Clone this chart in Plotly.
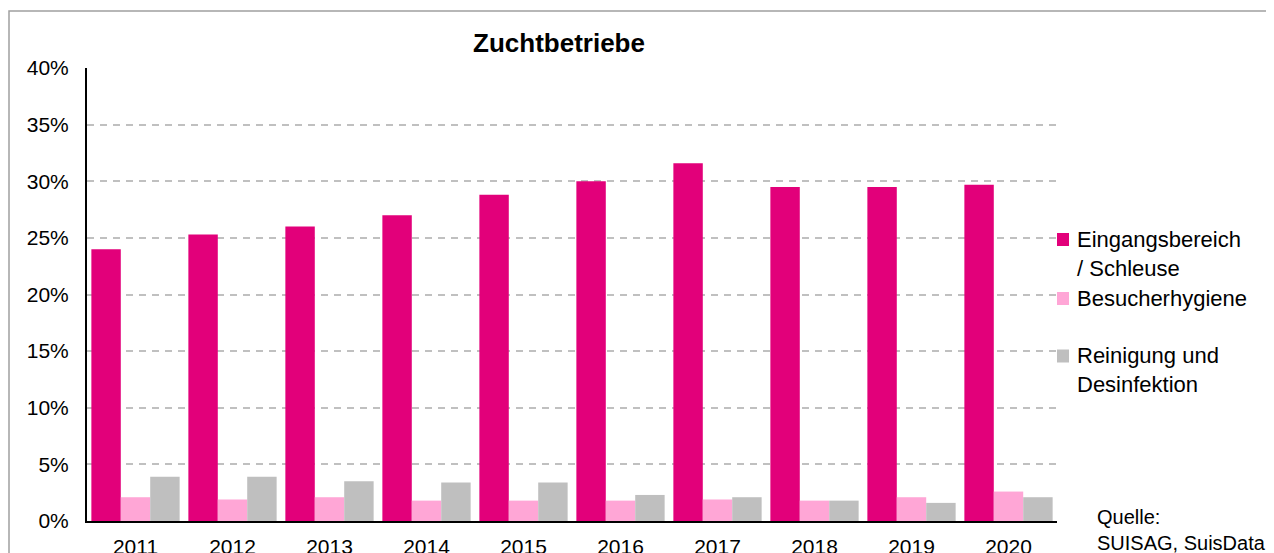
import plotly.graph_objects as go

years = ["2011", "2012", "2013", "2014", "2015", "2016", "2017", "2018", "2019", "2020"]
eingang = [0.240, 0.253, 0.260, 0.270, 0.288, 0.300, 0.316, 0.295, 0.295, 0.297]
besucher = [0.021, 0.019, 0.021, 0.018, 0.018, 0.018, 0.019, 0.018, 0.021, 0.026]
reinigung = [0.039, 0.039, 0.035, 0.034, 0.034, 0.023, 0.021, 0.018, 0.016, 0.021]

series_names = ["Eingangsbereich<br>/ Schleuse", "Besucherhygiene", "Reinigung und<br>Desinfektion"]
colors = ["#E2007A", "#FFA6D6", "#BFBFBF"]

# the page body has an 8px margin; work in screen pixels and convert
OFF = 8
W, H = 1274 - OFF, 553 - OFF
L, R, T, B = 87, 1057, 68, 521  # screen pixels of the plot area
pw, ph = R - L, B - T

def px(x):
    return (x - L) / pw

def py(y):
    return (B - y) / ph

FONT = "Liberation Sans, Arial, sans-serif"

fig = go.Figure()
for name, vals, col in zip(series_names, [eingang, besucher, reinigung], colors):
    fig.add_trace(go.Bar(x=years, y=vals, name=name, marker=dict(color=col, line=dict(width=0)),
                         showlegend=False))

fig.update_layout(
    width=W, height=H,
    margin=dict(l=L - OFF, r=W - (R - OFF), t=T - OFF, b=H - (B - OFF), pad=0, autoexpand=False),
    paper_bgcolor="white", plot_bgcolor="white",
    barmode="group", bargap=0.09, bargroupgap=0,
    font=dict(family=FONT, color="black"),
    title=dict(text="<b>Zuchtbetriebe</b>", font=dict(size=26, family=FONT, color="black"),
               x=px(559), xref="paper", xanchor="center", y=1 - (43 - OFF) / H, yref="container",
               yanchor="middle"),
)
fig.update_yaxes(range=[0, 0.4], tickvals=[i * 0.05 for i in range(9)], tickformat=".0%",
                 showgrid=True, gridcolor="#C0C0C0", gridwidth=2, griddash="7px,6px",
                 showline=True, linecolor="black", linewidth=2, ticks="", zeroline=False,
                 tickfont=dict(size=21, color="black"), ticklabelstandoff=12, automargin=False)
fig.update_xaxes(showline=True, linecolor="black", linewidth=2, ticks="", showgrid=False,
                 tickfont=dict(size=21, color="black"), ticklabelstandoff=6, automargin=False)

shapes = []
annotations = []
# outer border
shapes.append(dict(type="rect", xref="paper", yref="paper", x0=px(9), x1=px(1290),
                   y0=py(575), y1=py(11), line=dict(color="#A0A0A0", width=1.5)))
# legend
leg = [(series_names[0], colors[0], 239.5, 253.5),
       (series_names[1], colors[1], 298.5, 298.5),
       (series_names[2], colors[2], 356.0, 370.0)]
for name, col, my, ty in leg:
    shapes.append(dict(type="rect", xref="paper", yref="paper", x0=px(1057), x1=px(1069),
                       y0=py(my + 6.5), y1=py(my - 6.5), line=dict(width=0), fillcolor=col))
    annotations.append(dict(text=name, xref="paper", yref="paper", x=px(1075), y=py(ty),
                            xanchor="left", yanchor="middle", align="left", showarrow=False,
                            font=dict(size=22, family=FONT, color="black")))
annotations.append(dict(text="Quelle:<br>SUISAG, SuisData", xref="paper", yref="paper",
                        x=px(1095), y=py(529.5), xanchor="left", yanchor="middle", align="left",
                        showarrow=False, font=dict(size=20, family=FONT, color="black")))
fig.update_layout(shapes=shapes, annotations=annotations)

fig.write_html("out.html")
